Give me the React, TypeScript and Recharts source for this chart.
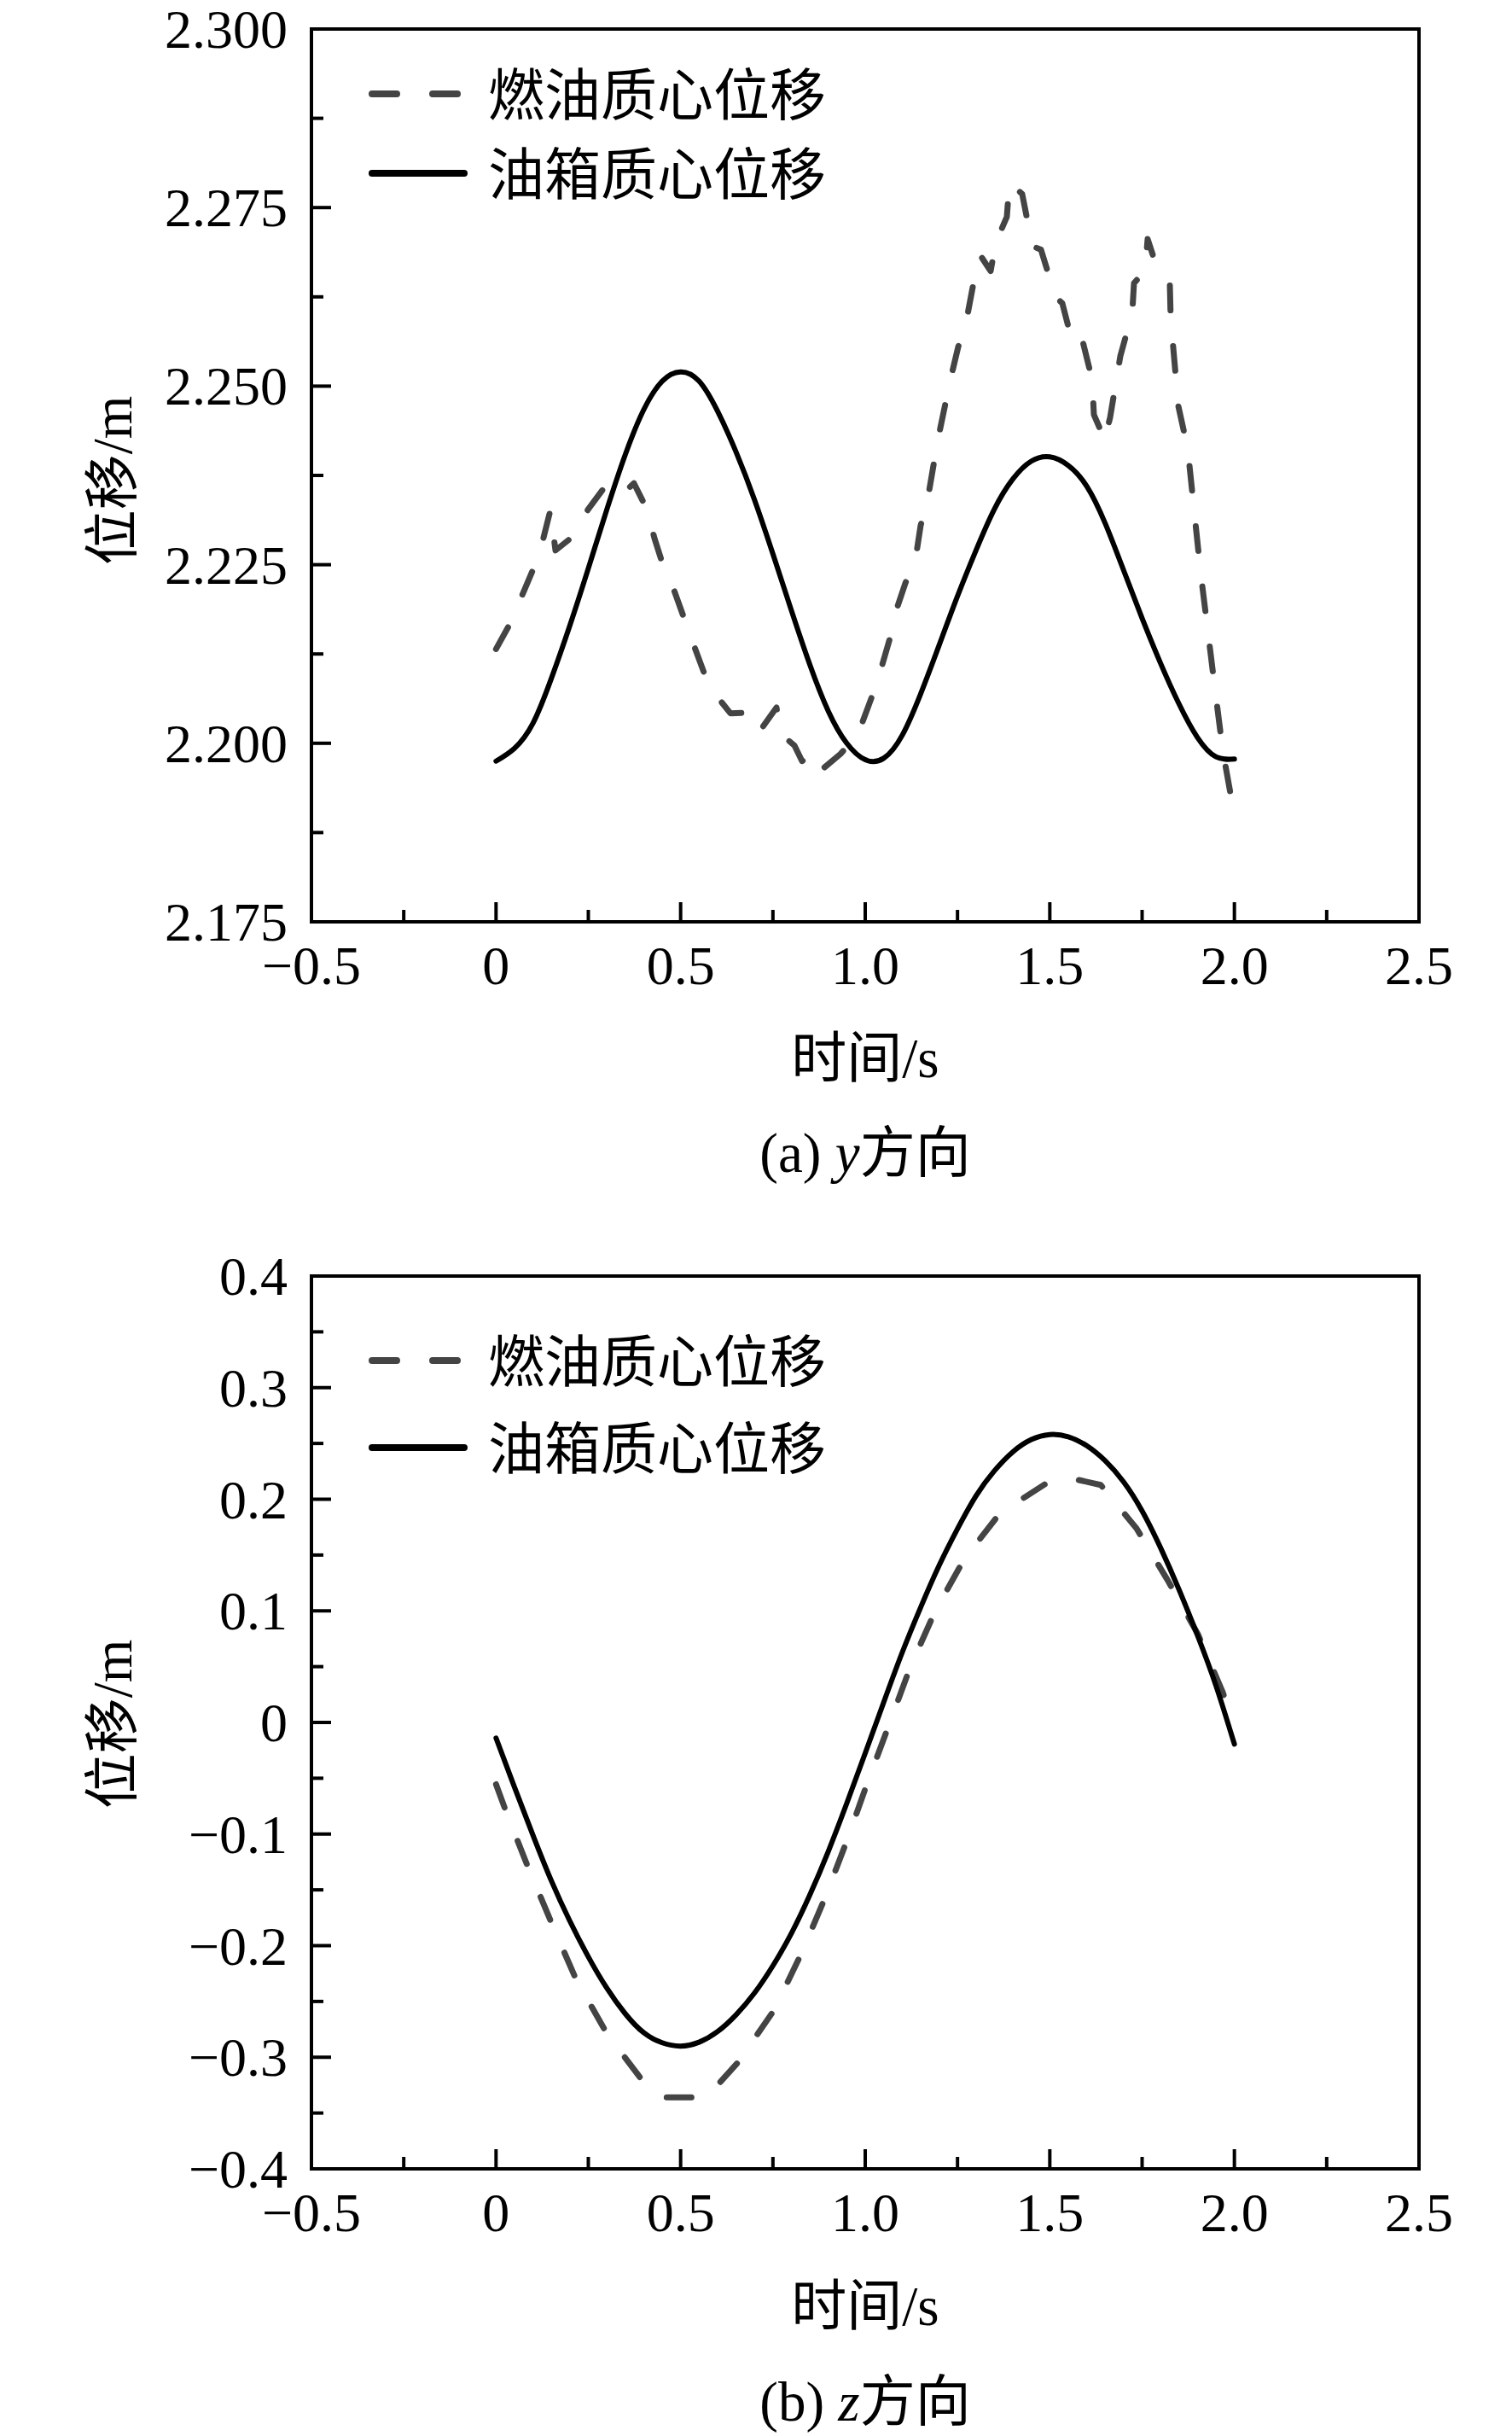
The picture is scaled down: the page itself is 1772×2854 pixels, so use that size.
import React from 'react';
import { LineChart, Line, XAxis, YAxis, ReferenceArea } from 'recharts';

// ---------- names / labels ----------
const seriesNames = ['燃油质心位移', '油箱质心位移'];
const captions = ['(a) ', '(b) '];
const captionVars = ['y', 'z'];
const captionTail = '方向';
const xTitle = '时间/s';
const yTitle = '位移/m';

// ---------- ticks ----------
const xMajorTicks = [-0.5, 0, 0.5, 1.0, 1.5, 2.0, 2.5];
const xMinorTicks = [-0.25, 0.25, 0.75, 1.25, 1.75, 2.25];

const yMajorTicksA = [2.175, 2.2, 2.225, 2.25, 2.275, 2.3];
const yMinorTicksA = [2.1875, 2.2125, 2.2375, 2.2625, 2.2875];

const yMajorTicksB = [-0.4, -0.3, -0.2, -0.1, 0, 0.1, 0.2, 0.3, 0.4];
const yMinorTicksB = [-0.35, -0.25, -0.15, -0.05, 0.05, 0.15, 0.25, 0.35];

// ---------- data: (a) y direction ----------
const fuelA: [number, number][] = [
  [0, 2.2132], [0.0385, 2.2168], [0.1009, 2.2244], [0.1171, 2.2264], [0.1471, 2.2326],
  [0.161, 2.227], [0.2119, 2.2291], [0.2488, 2.2327], [0.2904, 2.2356], [0.3159, 2.2343],
  [0.3436, 2.235], [0.3736, 2.2364], [0.4083, 2.2328], [0.4291, 2.2287], [0.4568, 2.2242],
  [0.4823, 2.2214], [0.5331, 2.2141], [0.5632, 2.2099], [0.6024, 2.2063], [0.6348, 2.2042],
  [0.6949, 2.2043], [0.7157, 2.2018], [0.7596, 2.205], [0.7735, 2.2012], [0.8081, 2.1997],
  [0.829, 2.1975], [0.8613, 2.1985], [0.8798, 2.1962], [0.9329, 2.1985], [0.9607, 2.2001],
  [0.9907, 2.2027], [1.0208, 2.2069], [1.0439, 2.2106], [1.067, 2.2147], [1.0832, 2.2185],
  [1.1086, 2.2224], [1.1363, 2.2258], [1.1502, 2.2305], [1.1687, 2.234], [1.1964, 2.2424],
  [1.2311, 2.251], [1.2519, 2.2555], [1.2727, 2.2588], [1.3027, 2.267], [1.312, 2.2683],
  [1.3397, 2.2661], [1.3536, 2.2701], [1.3836, 2.2737], [1.3906, 2.2785], [1.4252, 2.2769],
  [1.4484, 2.2708], [1.453, 2.2696], [1.4761, 2.2691], [1.5154, 2.2625], [1.5339, 2.2616],
  [1.5593, 2.2565], [1.5847, 2.2572], [1.6147, 2.2509], [1.6194, 2.246], [1.6379, 2.2438],
  [1.6471, 2.2422], [1.6633, 2.2456], [1.691, 2.2542], [1.7234, 2.2603], [1.728, 2.2644],
  [1.7581, 2.2662], [1.765, 2.2706], [1.7858, 2.2673], [1.8251, 2.2643], [1.8274, 2.2595],
  [1.8482, 2.2472], [1.8736, 2.2412], [1.9083, 2.224], [1.9476, 2.2075], [1.9684, 2.199],
  [2.0, 2.1899],
];

const tankA: [number, number][] = [
  [0, 2.1975], [0.05, 2.1993], [0.1, 2.2028], [0.15, 2.2091], [0.2, 2.2165],
  [0.25, 2.2245], [0.3, 2.2327], [0.35, 2.2404], [0.4, 2.2467], [0.45, 2.2507],
  [0.5, 2.252], [0.55, 2.2507], [0.6, 2.2465], [0.65, 2.2408], [0.7, 2.2341],
  [0.75, 2.2265], [0.8, 2.2186], [0.85, 2.211], [0.9, 2.2045], [0.95, 2.2],
  [1.0, 2.1977], [1.05, 2.1979], [1.1, 2.2011], [1.15, 2.2069], [1.2, 2.2137],
  [1.25, 2.2206], [1.3, 2.227], [1.35, 2.2328], [1.4, 2.237], [1.45, 2.2395],
  [1.5, 2.2401], [1.55, 2.2389], [1.6, 2.236], [1.65, 2.2308], [1.7, 2.2242],
  [1.75, 2.2175], [1.8, 2.2112], [1.85, 2.2055], [1.9, 2.2008], [1.95, 2.1981],
  [2.0, 2.1978],
];

// ---------- data: (b) z direction ----------
const fuelB: [number, number][] = [
  [0, -0.0554], [0.027, -0.0798], [0.087, -0.13], [0.152, -0.181], [0.2165, -0.23],
  [0.2997, -0.2785], [0.3898, -0.318], [0.4407, -0.336], [0.5701, -0.336], [0.6556, -0.3045],
  [0.7527, -0.258], [0.8266, -0.2074], [0.8914, -0.157], [0.9514, -0.105], [1.0069, -0.0531],
  [1.0647, -0.0019], [1.1225, 0.05], [1.1895, 0.0997], [1.268, 0.1463], [1.3652, 0.1876],
  [1.4946, 0.2151], [1.5454, 0.2197], [1.6379, 0.2128], [1.735, 0.1738], [1.8182, 0.128],
  [1.9014, 0.079], [1.9684, 0.0271], [2.0, -0.005],
];

const tankB: [number, number][] = [
  [0, -0.014], [0.05, -0.058], [0.1, -0.101], [0.15, -0.142], [0.2, -0.178],
  [0.25, -0.21], [0.3, -0.238], [0.35, -0.261], [0.4, -0.278], [0.45, -0.287],
  [0.5, -0.29], [0.55, -0.2865], [0.6, -0.277], [0.65, -0.262], [0.7, -0.2425],
  [0.75, -0.218], [0.8, -0.189], [0.85, -0.1545], [0.9, -0.1155], [0.95, -0.0725],
  [1.0, -0.0275], [1.05, 0.018], [1.1, 0.0625], [1.15, 0.103], [1.2, 0.1405],
  [1.25, 0.1735], [1.3, 0.203], [1.35, 0.2255], [1.4, 0.2425], [1.45, 0.2535],
  [1.5, 0.258], [1.55, 0.256], [1.6, 0.248], [1.65, 0.2345], [1.7, 0.2155],
  [1.75, 0.1895], [1.8, 0.1565], [1.85, 0.119], [1.9, 0.078], [1.95, 0.033],
  [2.0, -0.0195],
];

const toRows = (pairs: [number, number][]) => pairs.map(([t, v]) => ({ t, v }));

const NUM_FONT = '"Liberation Serif", "Times New Roman", serif';
const MIX_FONT = '"Liberation Serif", "Noto Sans CJK SC", serif';
const CJK_FONT = '"Noto Sans CJK SC", sans-serif';
const FUEL_COLOR = '#444444';
const TANK_COLOR = '#000000';

const isIn = (arr: number[], v: number) => arr.some((m) => Math.abs(m - v) < 1e-6);

const fmtX = (v: number) => {
  if (Math.abs(v) < 1e-9) return '0';
  const s = Math.abs(v).toFixed(1);
  return v < 0 ? '\u2212' + s : s;
};
const fmtYA = (v: number) => v.toFixed(3);
const fmtYB = (v: number) => {
  if (Math.abs(v) < 1e-9) return '0';
  const s = Math.abs(v).toFixed(1);
  return v < 0 ? '\u2212' + s : s;
};

const XTick = (props: any) => {
  const { x, y, payload, majors, fmt } = props;
  const major = isIn(majors, payload.value);
  return (
    <g>
      <line x1={x} x2={x} y1={y} y2={y - (major ? 23 : 14)} stroke="#000" strokeWidth={4} />
      {major && (
        <text x={x} y={y + 73} textAnchor="middle" fontFamily={NUM_FONT} fontSize={64} fill="#000">
          {fmt(payload.value)}
        </text>
      )}
    </g>
  );
};

const YTick = (props: any) => {
  const { x, y, payload, majors, fmt } = props;
  const major = isIn(majors, payload.value);
  return (
    <g>
      <line x1={x} x2={x + (major ? 23 : 14)} y1={y} y2={y} stroke="#000" strokeWidth={4} />
      {major && (
        <text x={x - 28} y={y + 22} textAnchor="end" fontFamily={NUM_FONT} fontSize={64} fill="#000">
          {fmt(payload.value)}
        </text>
      )}
    </g>
  );
};

const xAllTicks = [...xMajorTicks, ...xMinorTicks].sort((a, b) => a - b);

type PanelProps = {
  fuel: [number, number][];
  tank: [number, number][];
  yDomain: [number, number];
  yMajors: number[];
  yMinors: number[];
  yFmt: (v: number) => string;
};

const Panel = ({ fuel, tank, yDomain, yMajors, yMinors, yFmt }: PanelProps) => {
  const yAll = [...yMajors, ...yMinors].sort((a, b) => a - b);
  return (
    <LineChart width={1772} height={1430} margin={{ top: 34, right: 109, bottom: 290, left: 305 }}>
      <XAxis
        type="number"
        dataKey="t"
        domain={[-0.5, 2.5]}
        ticks={xAllTicks}
        interval={0}
        allowDataOverflow
        axisLine={false}
        tickLine={false}
        tickSize={0}
        tickMargin={0}
        height={60}
        tick={(p: any) => <XTick {...p} majors={xMajorTicks} fmt={fmtX} />}
      />
      <YAxis
        type="number"
        domain={yDomain}
        ticks={yAll}
        interval={0}
        allowDataOverflow
        axisLine={false}
        tickLine={false}
        tickSize={0}
        tickMargin={0}
        width={60}
        tick={(p: any) => <YTick {...p} majors={yMajors} fmt={yFmt} />}
      />
      <ReferenceArea
        x1={-0.5}
        x2={2.5}
        y1={yDomain[0]}
        y2={yDomain[1]}
        fill="none"
        fillOpacity={0}
        stroke="#000"
        strokeWidth={4}
        ifOverflow="visible"
      />
      <Line
        data={toRows(fuel)}
        dataKey="v"
        name={seriesNames[0]}
        type="linear"
        stroke={FUEL_COLOR}
        strokeWidth={7}
        strokeDasharray="29 42"
        strokeLinecap="round"
        strokeLinejoin="round"
        dot={false}
        activeDot={false}
        isAnimationActive={false}
      />
      <Line
        data={toRows(tank)}
        dataKey="v"
        name={seriesNames[1]}
        type="natural"
        stroke={TANK_COLOR}
        strokeWidth={6}
        strokeLinecap="round"
        dot={false}
        activeDot={false}
        isAnimationActive={false}
      />
    </LineChart>
  );
};

const LegendBlock = ({ dashY, solidY }: { dashY: number; solidY: number }) => (
  <g>
    <line x1={436} x2={536} y1={dashY} y2={dashY} stroke={FUEL_COLOR} strokeWidth={8}
      strokeDasharray="29 42" strokeLinecap="round" />
    <text x={572} y={dashY + 25} fontFamily={CJK_FONT} fontSize={66} fill="#000">{seriesNames[0]}</text>
    <line x1={436} x2={544} y1={solidY} y2={solidY} stroke={TANK_COLOR} strokeWidth={8} strokeLinecap="round" />
    <text x={572} y={solidY + 25} fontFamily={CJK_FONT} fontSize={66} fill="#000">{seriesNames[1]}</text>
  </g>
);

const Titles = ({ plotCenterY, xTitleY, captionY, idx }: { plotCenterY: number; xTitleY: number; captionY: number; idx: number }) => (
  <g>
    <text transform={`translate(154, ${plotCenterY}) rotate(-90)`} textAnchor="middle"
      fontFamily={MIX_FONT} fontSize={65} fill="#000">{yTitle}</text>
    <text x={1014} y={xTitleY} textAnchor="middle" fontFamily={MIX_FONT} fontSize={65} fill="#000">{xTitle}</text>
    <text x={1014} y={captionY} textAnchor="middle" fontFamily={MIX_FONT} fontSize={65} fill="#000">
      {captions[idx]}
      <tspan fontStyle="italic">{captionVars[idx]}</tspan>
      {captionTail}
    </text>
  </g>
);

export default function App() {
  return (
    <div style={{ position: 'absolute', left: 0, top: 0, width: 1772, height: 2854, background: '#fff', overflow: 'hidden' }}>
      <div style={{ position: 'absolute', left: 0, top: 0 }}>
        <Panel fuel={fuelA} tank={tankA} yDomain={[2.175, 2.3]} yMajors={yMajorTicksA} yMinors={yMinorTicksA} yFmt={fmtYA} />
      </div>
      <div style={{ position: 'absolute', left: 0, top: 1461 }}>
        <Panel fuel={fuelB} tank={tankB} yDomain={[-0.4, 0.4]} yMajors={yMajorTicksB} yMinors={yMinorTicksB} yFmt={fmtYB} />
      </div>
      <svg width={1772} height={2854} style={{ position: 'absolute', left: 0, top: 0, pointerEvents: 'none' }}>
        <LegendBlock dashY={110} solidY={203} />
        <LegendBlock dashY={1594} solidY={1696} />
        <Titles plotCenterY={563} xTitleY={1262} captionY={1373} idx={0} />
        <Titles plotCenterY={2020} xTitleY={2724} captionY={2836} idx={1} />
      </svg>
    </div>
  );
}
